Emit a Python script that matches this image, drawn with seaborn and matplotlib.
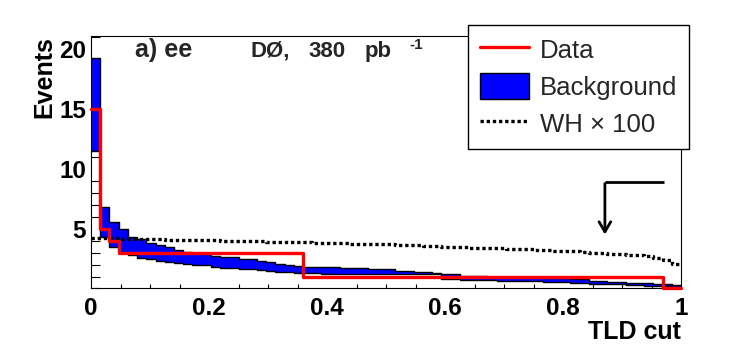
import numpy as np
import pandas as pd
import seaborn as sns
from matplotlib import pyplot as plt
from matplotlib.lines import Line2D
from matplotlib.patches import Patch
from matplotlib.ticker import MultipleLocator, FixedLocator

# ========================================================
# values (64 bins of the TLD cut)
nbins = 64

bkg_hi = [19.25, 6.79, 5.53, 4.95, 4.28, 4.11, 3.78, 3.61, 3.44, 3.25,
          3.05, 2.95, 2.92, 2.74, 2.66, 2.66, 2.49, 2.49, 2.33, 2.19,
          2.07, 1.96, 1.86, 1.77, 1.77, 1.76, 1.76, 1.69, 1.69, 1.69,
          1.60, 1.60, 1.60, 1.49, 1.49, 1.41, 1.41, 1.32, 1.19, 1.19,
          1.05, 1.05, 1.02, 0.99, 0.94, 0.94, 0.94, 0.94, 0.94, 0.85,
          0.85, 0.85, 0.77, 0.77, 0.65, 0.65, 0.57, 0.57, 0.49, 0.49,
          0.43, 0.35, 0.35, 0.27]

bkg_lo = [11.50, 4.33, 3.50, 3.00, 2.78, 2.58, 2.44, 2.33, 2.24, 2.16,
          2.05, 1.98, 1.95, 1.82, 1.74, 1.74, 1.66, 1.66, 1.55, 1.46,
          1.41, 1.35, 1.30, 1.27, 1.27, 1.25, 1.25, 1.21, 1.21, 1.21,
          1.19, 1.19, 1.19, 1.19, 1.19, 1.19, 1.19, 1.19, 0.77, 0.77,
          0.71, 0.71, 0.71, 0.71, 0.65, 0.65, 0.65, 0.65, 0.65, 0.52,
          0.52, 0.52, 0.49, 0.49, 0.40, 0.40, 0.35, 0.35, 0.29, 0.29,
          0.23, 0.21, 0.21, 0.15]

wh_x100 = [4.25, 4.22, 4.20, 4.18, 4.15, 4.12, 4.11, 4.10, 4.09, 4.08,
           4.07, 4.05, 4.03, 4.02, 4.01, 4.00, 3.98, 3.95, 3.93, 3.91,
           3.90, 3.88, 3.87, 3.85, 3.84, 3.83, 3.82, 3.80, 3.76, 3.73,
           3.72, 3.71, 3.69, 3.66, 3.63, 3.60, 3.57, 3.54, 3.51, 3.48,
           3.46, 3.42, 3.40, 3.37, 3.35, 3.32, 3.29, 3.27, 3.25, 3.20,
           3.16, 3.13, 3.10, 3.05, 3.00, 2.97, 2.92, 2.88, 2.84, 2.76,
           2.68, 2.58, 2.40, 2.05]

# data steps: cut values where the count changes
data_cuts = [0.0, 0.0156, 0.0313, 0.0469, 0.359, 0.969, 1.0]
data_counts = [15, 5, 4, 3, 1, 0]

xticks = [0, 0.2, 0.4, 0.6, 0.8, 1.0]
xticklabels = ["0", "0.2", "0.4", "0.6", "0.8", "1"]
yticks = [5, 10, 15, 20]
yticklabels = ["5", "10", "15", "20"]

arrow_cut = 0.871
arrow_top = 8.93
arrow_tip = 4.28
arrow_end = 0.971

# ========================================================
sns.set_theme(style="white")
plt.rcParams["font.family"] = ["Liberation Sans", "DejaVu Sans"]

edges = np.linspace(0, 1, nbins + 1)
bins = pd.DataFrame({
    "x": edges,
    "hi": bkg_hi + [bkg_hi[-1]],
    "lo": bkg_lo + [bkg_lo[-1]],
    "wh": wh_x100 + [wh_x100[-1]],
})
data = pd.DataFrame({"x": data_cuts, "n": data_counts + [data_counts[-1]]})

fig = plt.figure(figsize=(7.56, 3.52), dpi=100)
ax = fig.add_axes([0.1204, 0.1804, 0.9008 - 0.1204, 0.8977 - 0.1804])

ax.fill_between(bins["x"], bins["lo"], bins["hi"], step="post", color="#0000ff", lw=0, zorder=1)
sns.lineplot(data=bins, x="x", y="hi", ax=ax, color="black", lw=1, drawstyle="steps-post", zorder=2)
sns.lineplot(data=bins, x="x", y="lo", ax=ax, color="black", lw=1, drawstyle="steps-post", zorder=2)
sns.lineplot(data=bins, x="x", y="wh", ax=ax, color="black", lw=2.4,
             linestyle=(0, (1, 0.85)), drawstyle="steps-post", zorder=3)
sns.lineplot(data=data, x="x", y="n", ax=ax, color="#ff0000", lw=2.4,
             drawstyle="steps-post", zorder=4, clip_on=False)

# cut arrow
ax.plot([arrow_cut, arrow_end], [arrow_top, arrow_top], color="black", lw=2, solid_capstyle="butt", zorder=5)
ax.annotate("", xy=(arrow_cut, arrow_tip), xytext=(arrow_cut, arrow_top + 0.08),
            arrowprops=dict(arrowstyle="->,head_length=0.6,head_width=0.35", color="black", lw=2),
            zorder=5)

ax.set_xlim(0, 1)
ax.set_ylim(0, 21.11)

ax.xaxis.set_major_locator(FixedLocator(xticks))
ax.set_xticklabels(xticklabels)
ax.xaxis.set_minor_locator(MultipleLocator(0.05))
ax.yaxis.set_major_locator(FixedLocator(yticks))
ax.set_yticklabels(yticklabels)
ax.yaxis.set_minor_locator(MultipleLocator(1))

ax.tick_params(axis="both", which="both", direction="in", color="black", width=0.8,
               top=False, right=False)
ax.tick_params(axis="y", which="major", length=12.7, pad=3.5)
ax.tick_params(axis="y", which="minor", length=6.3, left=True)
ax.tick_params(axis="x", which="major", length=6, pad=6)
ax.tick_params(axis="x", which="minor", length=3.1, bottom=True)
for lab in ax.get_xticklabels() + ax.get_yticklabels():
    lab.set_fontsize(17.5)
    lab.set_fontweight("bold")
    lab.set_color("black")

for s in ax.spines.values():
    s.set_color("black")
    s.set_linewidth(0.8)

ax.set_xlabel("TLD cut", fontsize=18, fontweight="bold", color="black", loc="right")
ax.set_ylabel("Events", fontsize=18, fontweight="bold", color="black", loc="top")
ax.xaxis.set_label_coords(1.0, -0.125)
ax.yaxis.set_label_coords(-0.059, 1.0)

# labels in the plot
ax.text(0.0746, 0.918, "a) ee", transform=ax.transAxes, fontsize=18, fontweight="bold",
        va="baseline", ha="left")
ax.text(0.2700, 0.918, "DØ,", transform=ax.transAxes, fontsize=16, fontweight="bold",
        va="baseline", ha="left")
ax.text(0.3683, 0.918, "380", transform=ax.transAxes, fontsize=16, fontweight="bold",
        va="baseline", ha="left")
ax.text(0.4644, 0.918, "pb", transform=ax.transAxes, fontsize=16, fontweight="bold",
        va="baseline", ha="left")
ax.text(0.5400, 0.9485, "-1", transform=ax.transAxes, fontsize=11, fontweight="bold",
        va="baseline", ha="left")

handles = [
    Line2D([], [], color="#ff0000", lw=2.4),
    Patch(facecolor="#0000ff", edgecolor="black", lw=1),
    Line2D([], [], color="black", lw=2.4, linestyle=(0, (1, 0.85))),
]
labels = ["Data", "Background", "WH × 100"]
leg = fig.legend(handles, labels, loc="upper left", bbox_to_anchor=(0.6195, 0.930),
                 bbox_transform=fig.transFigure, fontsize=18.5, frameon=True, fancybox=False,
                 framealpha=1, edgecolor="black", borderpad=0.45, handlelength=1.9,
                 handleheight=1.15, handletextpad=0.45, labelspacing=0.42, borderaxespad=0)
leg.get_frame().set_linewidth(1)

plt.savefig("out.png", dpi=100)
